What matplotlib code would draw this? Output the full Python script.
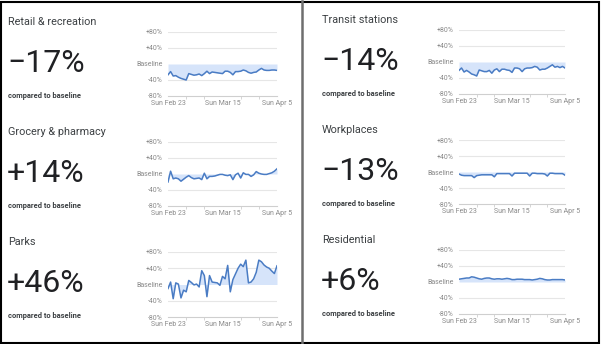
import matplotlib
matplotlib.use("Agg")
import matplotlib.pyplot as plt
import pandas as pd
from matplotlib.patches import Rectangle
from matplotlib.lines import Line2D

# ---------------- data ----------------
dates = pd.date_range("2020-02-23", "2020-04-05", freq="D")
tick_dates = pd.to_datetime(["2020-02-23", "2020-03-15", "2020-04-05"])
tick_labels = ["Sun Feb 23", "Sun Mar 15", "Sun Apr 5"]
minor_tick_dates = pd.to_datetime(["2020-02-23", "2020-03-01", "2020-03-08", "2020-03-15",
                                   "2020-03-22", "2020-03-29", "2020-04-05"])
y_ticks = [-80, -40, 0, 40, 80]
y_tick_labels = ["-80%", "-40%", "Baseline", "+40%", "+80%"]

categories = ["Retail & recreation", "Grocery & pharmacy", "Parks",
              "Transit stations", "Workplaces", "Residential"]
headlines = ["\u221217%", "+14%", "+46%", "\u221214%", "\u221213%", "+6%"]
subtitle = "compared to baseline"

retail = [-27, -19, -30, -29, -33, -36, -38, -40, -24, -26, -28, -27, -25, -29, -24,
          -18, -24, -20, -21, -22, -23, -24, -18, -18, -21, -27, -19, -19, -18, -15,
          -17, -21, -23, -21, -20, -15, -11, -15, -16, -16, -15, -15, -16]
grocery = [-20, 7, -12, -10, -12, -18, -13, -8, -4, -9, -12, -11, -10, -14, 2,
           -12, -6, -6, -5, -3, -1, -1, -3, -4, -2, -14, -2, 2, -10, 3,
           -1, -1, -6, -2, 6, 2, 0, -1, -1, 1, 3, 7, 13]
parks = [-10, 6, -35, 4, 1, -33, -14, -18, 10, 5, -1, 1, -6, 34, 22,
         -30, 22, 6, 5, 4, -2, 20, 14, 47, -18, 12, 26, 40, 50, 44,
         60, 4, 6, 14, 30, 60, 56, 48, 43, 40, 33, 27, 46]
transit = [-21, -15, -25, -21, -25, -30, -32, -35, -20, -22, -24, -24, -21, -28, -20,
           -17, -24, -18, -18, -20, -21, -26, -15, -15, -17, -24, -17, -15, -15, -14,
           -11, -13, -20, -18, -18, -15, -11, -7, -13, -11, -14, -11, -15]
workplaces = [-5, -8, -9, -9, -9, -9, -14, -9, -8, -7, -7, -7, -7, -7, -12,
              -4, -4, -4, -4, -4, -4, -10, -3, -3, -3, -3, -3, -3, -10, -3,
              -3, -4, -4, -4, -5, -10, -3, -3, -4, -4, -4, -4, -8]
residential = [7, 8, 9, 10, 10, 13, 12, 10, 8, 7, 9, 10, 10, 8, 7,
               8, 8, 7, 8, 9, 8, 6, 6, 7, 7, 7, 6, 6, 6, 5,
               6, 7, 9, 8, 6, 5, 5, 6, 6, 6, 6, 6, 5]

series = [retail, grocery, parks, transit, workplaces, residential]

# ---------------- layout ----------------
W, H = 601, 344
fig = plt.figure(figsize=(W / 100, H / 100), dpi=100)
fig.patch.set_facecolor("white")
FONT = ["Roboto", "DejaVu Sans"]

def px_rect(x0, x1, ytop, ybot):
    return [x0 / W, 1 - ybot / H, (x1 - x0) / W, (ybot - ytop) / H]

# plot rectangles (x0, x1, y of +80, y of -80)
plot_px = [(168, 277, 32, 96), (168, 277, 142, 206), (168, 277, 252, 317),
           (459, 565, 30, 94), (459, 565, 140, 204), (459, 565, 250, 314)]
# text positions (x, title y)
text_px = [(8, 22), (8, 132), (8, 242), (322, 20), (322, 130), (322, 240)]

LINE = "#4a7cc4"
FILL = "#d6e4fa"
GRID = "#e6e6e6"
TICK = "#8a8a8a"

for i in range(6):
    x0, x1, yt, yb = plot_px[i]
    ax = fig.add_axes(px_rect(x0, x1, yt, yb))
    ax.set_facecolor("none")
    vals = series[i]
    ax.fill_between(dates, vals, 0, color=FILL, linewidth=0, zorder=1)
    ax.plot(dates, vals, color=LINE, linewidth=1.1, zorder=3)
    for g in [80, 40, -40]:
        ax.axhline(g, color=GRID, linewidth=0.8, zorder=0)
    ax.set_ylim(-80, 80)
    ax.set_xlim(dates[0], dates[-1])
    ax.set_yticks(y_ticks)
    ax.set_yticklabels(y_tick_labels)
    ax.set_xticks(tick_dates)
    ax.set_xticklabels(tick_labels)
    ax.set_xticks(minor_tick_dates, minor=True)
    for s in ["top", "right", "left"]:
        ax.spines[s].set_visible(False)
    ax.spines["bottom"].set_color("#cfcfcf")
    ax.spines["bottom"].set_linewidth(0.8)
    ax.tick_params(axis="y", length=0, pad=4, labelsize=5.0, labelcolor=TICK)
    ax.tick_params(axis="x", which="major", length=0, pad=2.6, labelsize=5.0, labelcolor=TICK)
    ax.tick_params(axis="x", which="minor", length=1.8, width=0.6, color="#cfcfcf")
    for lab in ax.get_xticklabels() + ax.get_yticklabels():
        lab.set_family(FONT)

    tx, ty = text_px[i]
    fig.text(tx / W, 1 - ty / H, categories[i], family=FONT, fontsize=7.8,
             color="#3c4043", ha="left", va="center")
    fig.text((tx - 1) / W, 1 - (ty + 41) / H, headlines[i], family=FONT, fontsize=23,
             fontweight="normal", color="#202124", ha="left", va="center")
    fig.text(tx / W, 1 - (ty + 74.5) / H, subtitle, family=FONT, fontsize=5.4,
             fontweight="bold", color="#3c4043", ha="left", va="center")

# outer frame and divider
fig.add_artist(Rectangle((1 / W, 1 / H), 598 / W, 341 / H, transform=fig.transFigure,
                         fill=False, edgecolor="black", linewidth=1.5))
fig.add_artist(Line2D([302 / W, 302 / W], [1 / H, 1 - 1 / H], transform=fig.transFigure,
                      color="#6e6e6e", linewidth=1.8))

fig.savefig("out.png", dpi=100, facecolor="white")
